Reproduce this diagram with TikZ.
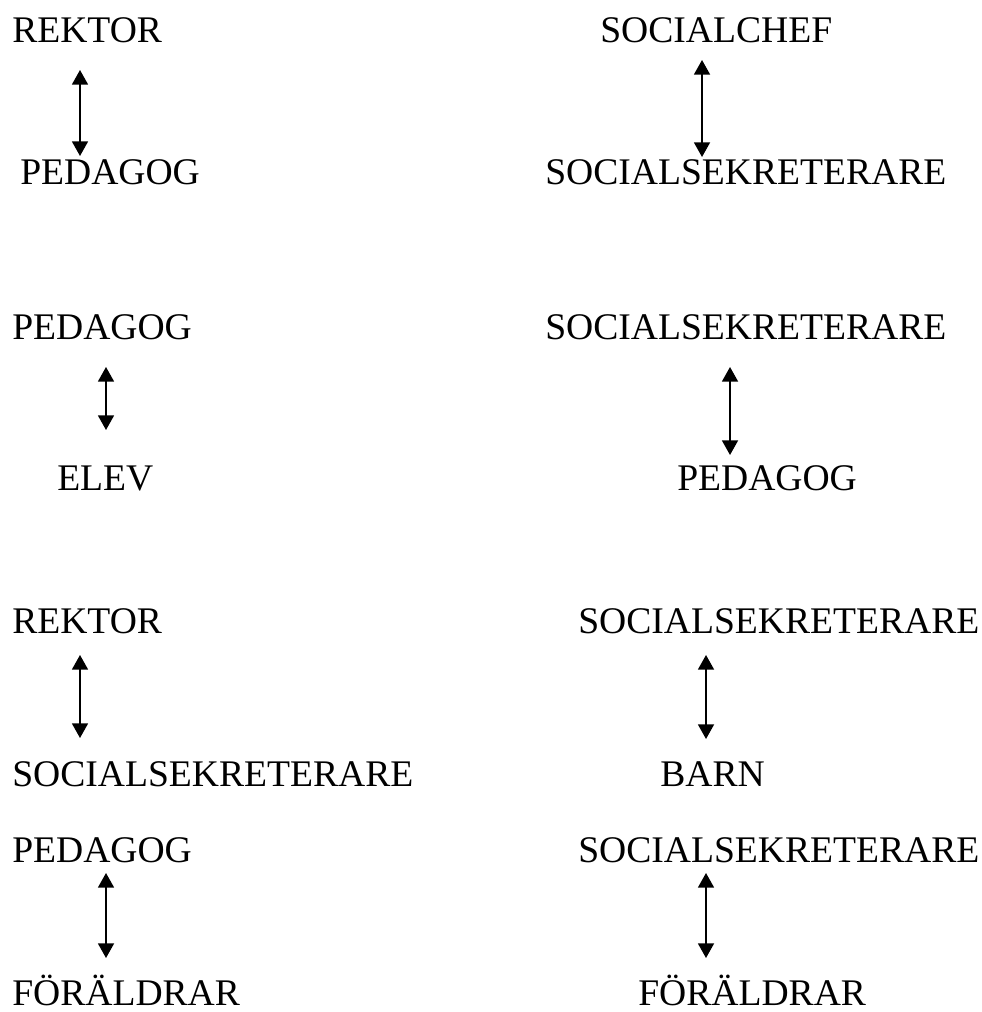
\documentclass[tikz,border=0pt]{standalone}
\usepackage{fontspec}
\setmainfont{Liberation Serif}
\usetikzlibrary{arrows.meta}

\begin{document}
\begin{tikzpicture}[x=0.75pt,y=-0.75pt,
  role/.style={anchor=base west,inner sep=0pt,font=\fontsize{28.2}{33}\selectfont},
  link/.style={line width=1.3pt,{Triangle[length=11pt,width=12pt]}-{Triangle[length=11pt,width=12pt]}}]
% Parameters
\def\colL{12};
\def\colR{545};
\def\colRR{578};

\useasboundingbox (0,0) rectangle (981,1012);

% Pair 1: rektor - pedagog
\node[role] (rektorA) at (\colL,43) {REKTOR};
\node[role] (pedagogA) at (20,185) {PEDAGOG};
\coordinate (tA1) at (80,70);
\coordinate (tA2) at (80,156);
\draw[link] (tA1) -- (tA2);

% Pair 2: socialchef - socialsekreterare
\node[role] (socialchef) at (600,43) {SOCIALCHEF};
\node[role] (sekrB) at (\colR,185) {SOCIALSEKRETERARE};
\coordinate (tB1) at (702,60);
\coordinate (tB2) at (702,157);
\draw[link] (tB1) -- (tB2);

% Pair 3: pedagog - elev
\node[role] (pedagogC) at (\colL,339) {PEDAGOG};
\node[role] (elev) at (57,490) {ELEV};
\coordinate (tC1) at (106,367);
\coordinate (tC2) at (106,430);
\draw[link] (tC1) -- (tC2);

% Pair 4: socialsekreterare - pedagog
\node[role] (sekrD) at (\colR,339) {SOCIALSEKRETERARE};
\node[role] (pedagogD) at (677,490) {PEDAGOG};
\coordinate (tD1) at (730,367);
\coordinate (tD2) at (730,455);
\draw[link] (tD1) -- (tD2);

% Pair 5: rektor - socialsekreterare
\node[role] (rektorE) at (\colL,633) {REKTOR};
\node[role] (sekrE) at (\colL,786) {SOCIALSEKRETERARE};
\coordinate (tE1) at (80,655);
\coordinate (tE2) at (80,738);
\draw[link] (tE1) -- (tE2);

% Pair 6: socialsekreterare - barn
\node[role] (sekrF) at (\colRR,633) {SOCIALSEKRETERARE};
\node[role] (barn) at (660,786) {BARN};
\coordinate (tF1) at (706,655);
\coordinate (tF2) at (706,739);
\draw[link] (tF1) -- (tF2);

% Pair 7: pedagog - foraldrar
\node[role] (pedagogG) at (\colL,862) {PEDAGOG};
\node[role] (foraldrarG) at (\colL,1005) {FÖRÄLDRAR};
\coordinate (tG1) at (106,873);
\coordinate (tG2) at (106,958);
\draw[link] (tG1) -- (tG2);

% Pair 8: socialsekreterare - foraldrar
\node[role] (sekrH) at (\colRR,862) {SOCIALSEKRETERARE};
\node[role] (foraldrarH) at (638,1005) {FÖRÄLDRAR};
\coordinate (tH1) at (706,873);
\coordinate (tH2) at (706,958);
\draw[link] (tH1) -- (tH2);

\end{tikzpicture}
\end{document}
